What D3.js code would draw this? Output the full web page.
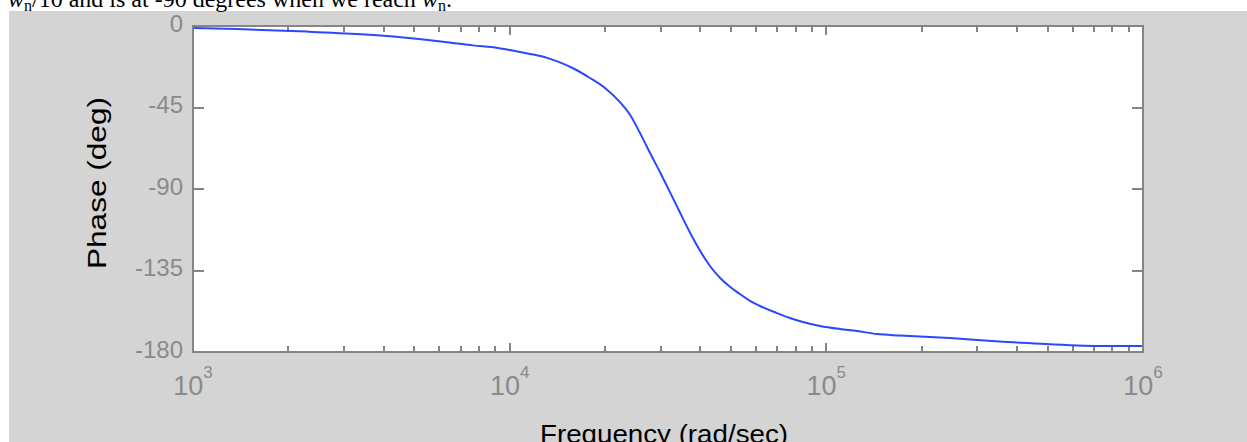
<!DOCTYPE html>
<html>
<head>
<meta charset="utf-8">
<script src="https://cdn.jsdelivr.net/npm/d3@7"></script>
<style>
  html, body { margin: 0; padding: 0; background: #fff; overflow: hidden; }
  svg { display: block; }
</style>
</head>
<body>
<svg id="chart" width="1247" height="442"></svg>
<script>
// phase readings (rad/sec, degrees)
const freq = [1000, 1377, 2291, 3393, 4538, 5521, 6527, 7656, 9182, 9806,
  10777, 11847, 13118, 14211, 15960, 17933, 19996, 22300, 23987, 25787,
  27733, 29822, 32078, 34494, 37096, 39894, 42906, 46132, 49610, 53360,
  57400, 61730, 69830, 76740, 84330, 95460, 110400, 124900, 144500,
  170800, 245500, 361200, 445700, 731000, 1000000];
const phase = [-1.1, -1.7, -3.1, -4.6, -6.2, -7.7, -9.2, -10.7, -12.1, -13.0,
  -14.3, -15.7, -17.6, -19.7, -23.6, -28.7, -34.2, -42, -49, -59,
  -70, -80.6, -91.7, -103, -114, -124, -132.5, -139, -144, -148,
  -151.8, -154.6, -158.5, -161.2, -163.4, -165.6, -167.3, -168.4, -170.1,
  -170.9, -172.3, -174.3, -175.2, -176.7, -176.7];

const yTicks = [0, -45, -90, -135, -180];
const xDecades = [3, 4, 5, 6];

const svg = d3.select("#chart");
const plotLeft = 193, plotRight = 1143, plotTop = 26, plotBottom = 352;
const axisColor = "#858585", labelColor = "#8a8a8a";

// grey figure background
svg.append("rect")
  .attr("x", 9).attr("y", 11)
  .attr("width", 1247 - 9).attr("height", 442 - 11)
  .attr("fill", "#d4d4d4");

// cut-off line of document text above the figure
const caption = svg.append("text")
  .attr("x", 8).attr("y", 7)
  .attr("font-family", "Liberation Serif, Times New Roman, serif")
  .attr("font-size", 24)
  .attr("fill", "#000");
caption.append("tspan").attr("font-style", "italic").text("w");
caption.append("tspan").attr("font-size", 16).attr("dy", 4).text("n");
caption.append("tspan").attr("dy", -4).text("/10 and is at -90 degrees when we reach ");
caption.append("tspan").attr("font-style", "italic").text("w");
caption.append("tspan").attr("font-size", 16).attr("dy", 4).text("n");
caption.append("tspan").attr("dy", -4).text(".");

var x = d3.scaleLog().domain([1e3, 1e6]).range([plotLeft, plotRight]);
var y = d3.scaleLinear().domain([-180, 0]).range([plotBottom, plotTop]);

// plot area
svg.append("rect")
  .attr("x", plotLeft).attr("y", plotTop)
  .attr("width", plotRight - plotLeft).attr("height", plotBottom - plotTop)
  .attr("fill", "#fff");

// ticks, log minor + major, on top and bottom, pointing inward
var xTickVals = [];
xDecades.forEach(function (d) {
  if (d < 6) {
    for (let m = 1; m < 10; m++) xTickVals.push({ v: m * Math.pow(10, d), major: m === 1 });
  } else {
    xTickVals.push({ v: Math.pow(10, d), major: true });
  }
});

var ticks = svg.append("g").attr("stroke", axisColor).attr("stroke-width", 2);
xTickVals.forEach(function (t) {
  const len = t.major ? 9 : 6;
  const px = Math.round(x(t.v));
  ticks.append("line").attr("x1", px).attr("x2", px).attr("y1", plotTop).attr("y2", plotTop + len);
  ticks.append("line").attr("x1", px).attr("x2", px).attr("y1", plotBottom).attr("y2", plotBottom - len);
});
yTicks.forEach(function (v) {
  const py = Math.round(y(v));
  ticks.append("line").attr("x1", plotLeft).attr("x2", plotLeft + 11).attr("y1", py).attr("y2", py);
  ticks.append("line").attr("x1", plotRight).attr("x2", plotRight - 11).attr("y1", py).attr("y2", py);
});

// phase curve
var line = d3.line()
  .x(function (d, i) { return x(freq[i]); })
  .y(function (d) { return y(d); })
  .curve(d3.curveMonotoneX);

svg.append("path")
  .datum(phase)
  .attr("d", line)
  .attr("fill", "none")
  .attr("stroke", "#2a48ff")
  .attr("stroke-width", 2);

// axes box
svg.append("rect")
  .attr("x", plotLeft).attr("y", plotTop)
  .attr("width", plotRight - plotLeft).attr("height", plotBottom - plotTop)
  .attr("fill", "none")
  .attr("stroke", axisColor)
  .attr("stroke-width", 2);

// y tick labels
svg.append("g").selectAll("text")
  .data(yTicks)
  .enter().append("text")
  .attr("x", 183)
  .attr("y", function (d) { return y(d) - 3; })
  .attr("dy", "0.36em")
  .attr("text-anchor", "end")
  .attr("font-family", "Liberation Sans, Arial, sans-serif")
  .attr("font-size", 24)
  .attr("fill", labelColor)
  .text(function (d) { return d; });

// x tick labels 10^n
var xl = svg.append("g").selectAll("text")
  .data(xDecades)
  .enter().append("text")
  .attr("x", function (d) { return x(Math.pow(10, d)); })
  .attr("y", 395)
  .attr("text-anchor", "middle")
  .attr("font-family", "Liberation Sans, Arial, sans-serif")
  .attr("font-size", 27)
  .attr("fill", labelColor);
xl.append("tspan").text("10");
xl.append("tspan").attr("font-size", 17).attr("dy", -17).text(function (d) { return d; });

// axis titles
svg.append("text")
  .attr("transform", "translate(106,183) rotate(-90)")
  .attr("text-anchor", "middle")
  .attr("font-family", "Liberation Sans, Arial, sans-serif")
  .attr("font-size", 25)
  .attr("textLength", 172)
  .attr("lengthAdjust", "spacingAndGlyphs")
  .attr("fill", "#000")
  .text("Phase (deg)");

svg.append("text")
  .attr("x", 664)
  .attr("y", 443)
  .attr("text-anchor", "middle")
  .attr("font-family", "Liberation Sans, Arial, sans-serif")
  .attr("font-size", 26)
  .attr("textLength", 248)
  .attr("lengthAdjust", "spacingAndGlyphs")
  .attr("fill", "#000")
  .text("Frequency  (rad/sec)");
</script>
</body>
</html>
